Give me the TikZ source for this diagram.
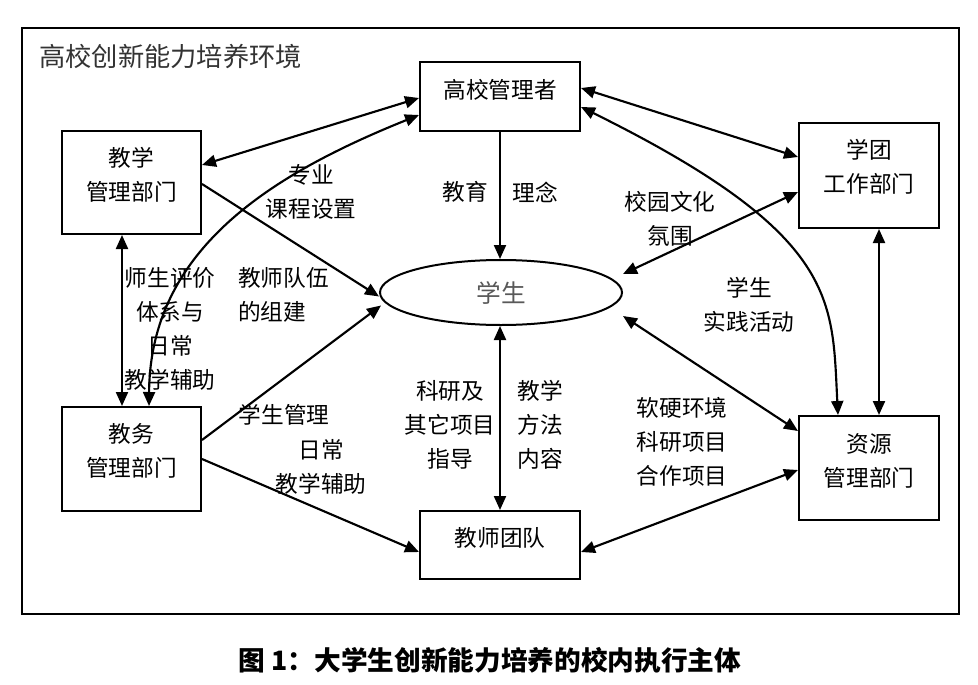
\documentclass[tikz,border=0pt]{standalone}
\usepackage{fontspec}
\setmainfont{Noto Sans CJK SC}
\usetikzlibrary{arrows.meta,fit,shapes.geometric,calc}
\begin{document}
\begin{tikzpicture}[x=0.75pt,y=-0.75pt,
  box/.style={draw,line width=1.5pt,inner sep=0pt},
  lbl/.style={font=\fontsize{17}{25.5}\selectfont,align=center,inner sep=0pt},
  tip/.tip={Triangle[length=10.5pt,width=9pt]},
  con/.style={line width=1.6pt,-tip},
  bi/.style={line width=1.6pt,tip-tip}]
\useasboundingbox (0,0) rectangle (978,685);
% frame
\node[draw,line width=1.1pt,inner sep=0pt,fit={(22,28)(959,614)}] (frame) {};
\node[anchor=west,inner sep=0pt,text=black!80,font=\fontsize{19.7}{24}\selectfont] (title) at (39,56) {高校创新能力培养环境};
% boxes
\node[box,fit={(420,62)(580,131)}] (hx) {};
\node[box,fit={(62,131)(201,234)}] (jx) {};
\node[box,fit={(799,123)(939,228)}] (xt) {};
\node[box,fit={(62,407)(201,511)}] (jw) {};
\node[box,fit={(420,511)(580,579)}] (js) {};
\node[box,fit={(799,416)(939,520)}] (zy) {};
\node[draw,ellipse,line width=1.5pt,minimum width=181.5pt,minimum height=48.75pt,inner sep=0pt,text=black!65,font=\fontsize{18.5}{22}\selectfont] (stu) at (501,292.5) {学生};
% box texts
\node[lbl] (thx) at (500,90) {高校管理者};
\node[lbl] (tjx) at (131.5,175) {教学\\管理部门};
\node[lbl] (txt) at (869,167) {学团\\工作部门};
\node[lbl] (tjw) at (131.5,450.5) {教务\\管理部门};
\node[lbl] (tjs) at (500,538) {教师团队};
\node[lbl] (tzy) at (869,460.5) {资源\\管理部门};
% connectors
\draw[bi] (jx.east |- 0,165) -- (hx.west |- 0,98);
\draw[con] (jx.east |- 0,184) -- ($(stu.center)+(-122,4)$);
\draw[bi] (hx.west |- 0,115) .. controls (270,175) and (150,250) .. (jw.north -| 149,0);
\draw[bi] (jx.south -| 122,0) -- (jw.north -| 122,0);
\draw[con] (hx.south) -- (hx.south |- stu.north);
\draw[bi] (hx.east |- 0,88) -- (xt.west |- 0,157);
\draw[bi] (hx.east |- 0,107) .. controls (840,235) and (832,300) .. (zy.north -| 838,0);
\draw[bi] (xt.west |- 0,192) -- ($(stu.center)+(122,-18.5)$);
\draw[bi] (xt.south -| 879,0) -- (zy.north -| 879,0);
\draw[bi] ($(stu.center)+(122,23.5)$) -- (zy.west |- 0,431);
\draw[bi] (js.north |- stu.south) -- (js.north);
\draw[con] (jw.east |- 0,440) -- ($(stu.center)+(-120,13)$);
\draw[con] (jw.east |- 0,459) -- (js.west |- 0,552);
\draw[bi] (js.east |- 0,552) -- (zy.west |- 0,470);
% labels
\node[lbl] (l1) at (311,192) {专业\\课程设置};
\node[lbl] (l2) at (465,192) {教育};
\node[lbl] (l3) at (535,192) {理念};
\node[lbl] (l4) at (670,218.5) {校园文化\\氛围};
\node[lbl] (l5) at (749,304.5) {学生\\实践活动};
\node[lbl] (l6) at (170,329) {师生评价\\体系与\\日常\\教学辅助};
\node[lbl,anchor=west,align=left] (l7) at (238,295) {教师队伍\\的组建};
\node[lbl] (l8) at (284,415) {学生管理};
\node[lbl] (l9) at (321,467) {日常\\教学辅助};
\node[lbl] (l10) at (450,425) {科研及\\其它项目\\指导};
\node[lbl] (l11) at (540,425) {教学\\方法\\内容};
\node[lbl] (l12) at (682,442) {软硬环境\\科研项目\\合作项目};
% caption
\node[inner sep=0pt,font=\fontsize{20}{24}\selectfont\bfseries] (cap) at (490,660) {图 1：大学生创新能力培养的校内执行主体};
\end{tikzpicture}
\end{document}
